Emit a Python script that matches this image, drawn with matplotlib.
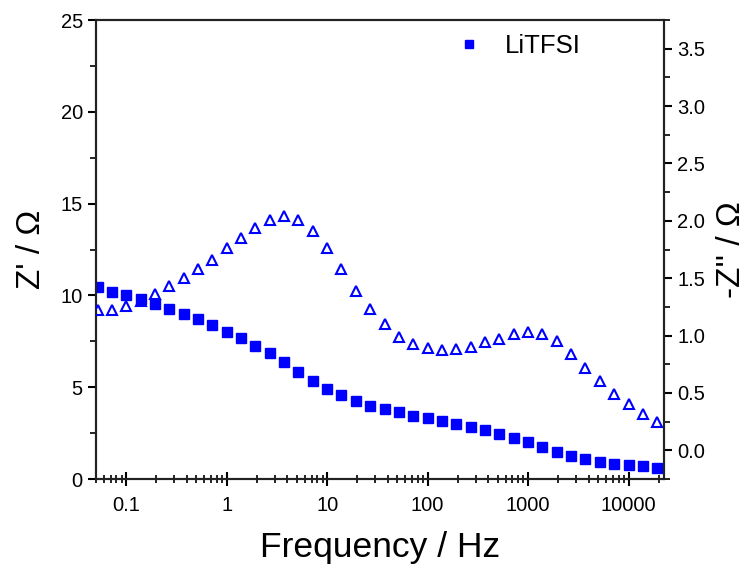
import matplotlib
matplotlib.use("Agg")
import matplotlib.pyplot as plt
from matplotlib.ticker import MultipleLocator, LogLocator, FixedLocator, FixedFormatter, NullFormatter, FormatStrFormatter

plt.rcParams['font.family'] = ['Liberation Sans', 'DejaVu Sans']

# Frequencies (Hz), 7 points per decade
freq = [0.0518, 0.0720, 0.100, 0.139, 0.193, 0.268, 0.373, 0.518, 0.720,
        1.00, 1.39, 1.93, 2.68, 3.73, 5.18, 7.20,
        10.0, 13.9, 19.3, 26.8, 37.3, 51.8, 72.0,
        100, 139, 193, 268, 373, 518, 720,
        1000, 1389, 1931, 2683, 3728, 5179, 7197,
        10000, 13895, 19307]

# Z' (left axis, ohm)
z_real = [10.44, 10.20, 10.02, 9.79, 9.53, 9.26, 8.99, 8.70, 8.40,
          8.02, 7.66, 7.26, 6.85, 6.36, 5.85, 5.36,
          4.92, 4.56, 4.25, 3.99, 3.81, 3.63, 3.45,
          3.34, 3.16, 3.01, 2.85, 2.67, 2.47, 2.25,
          2.00, 1.73, 1.49, 1.25, 1.07, 0.93, 0.83,
          0.78, 0.71, 0.62]

# -Z'' (right axis, ohm)
z_imag = [1.22, 1.22, 1.26, 1.30, 1.36, 1.43, 1.50, 1.58, 1.66,
          1.76, 1.85, 1.94, 2.01, 2.04, 2.01, 1.91,
          1.76, 1.58, 1.39, 1.23, 1.10, 0.99, 0.93,
          0.89, 0.87, 0.88, 0.90, 0.94, 0.97, 1.01,
          1.03, 1.01, 0.95, 0.84, 0.72, 0.60, 0.49,
          0.40, 0.32, 0.25]

x_ticks = [0.1, 1, 10, 100, 1000, 10000]
x_tick_labels = ['0.1', '1', '10', '100', '1000', '10000']

blue = '#0000FF'

fig = plt.figure(figsize=(7.51, 5.65), dpi=100)
ax = fig.add_axes([0.1278, 0.1522, 0.7562, 0.8124])
ax2 = ax.twinx()

ax.plot(freq, z_real, linestyle='none', marker='s', markersize=6.8,
        color=blue, markeredgecolor=blue, label='LiTFSI', zorder=3)
ax2.plot(freq, z_imag, linestyle='none', marker='^', markersize=7.8,
         markerfacecolor='none', markeredgecolor=blue, markeredgewidth=1.5, zorder=3)

ax.set_xscale('log')
ax.set_xlim(0.05, 22500)
ax.set_ylim(0, 25)
ax2.set_ylim(-0.25, 3.75)

ax.xaxis.set_major_locator(FixedLocator(x_ticks))
ax.xaxis.set_major_formatter(FixedFormatter(x_tick_labels))
ax.xaxis.set_minor_locator(LogLocator(base=10, subs=[2, 3, 4, 5, 6, 7, 8, 9], numticks=20))
ax.xaxis.set_minor_formatter(NullFormatter())

ax.yaxis.set_major_locator(MultipleLocator(5))
ax.yaxis.set_minor_locator(MultipleLocator(2.5))
ax2.yaxis.set_major_locator(MultipleLocator(0.5))
ax2.yaxis.set_minor_locator(MultipleLocator(0.25))
ax2.yaxis.set_major_formatter(FormatStrFormatter('%.1f'))

for a in (ax, ax2):
    for s in a.spines.values():
        s.set_linewidth(1.5)
        s.set_color('#222222')

ax.tick_params(axis='x', which='major', direction='inout', length=10, width=1.5, labelsize=14.5, pad=7, top=False)
ax.tick_params(axis='x', which='minor', direction='inout', length=6, width=1.2, top=False)
ax.tick_params(axis='y', which='major', direction='out', length=6, width=1.5, labelsize=14.5, right=False)
ax.tick_params(axis='y', which='minor', direction='out', length=4, width=1.2, right=False)
ax2.tick_params(axis='y', which='major', direction='out', length=6, width=1.5, labelsize=14.5)
ax2.tick_params(axis='y', which='minor', direction='out', length=4, width=1.2)

ax.set_xlabel('Frequency / Hz', fontsize=25.5, labelpad=12)
ax.set_ylabel("Z' / \u03a9", fontsize=24, labelpad=10)
ax2.set_ylabel("-Z'' / \u03a9", fontsize=24, labelpad=8)

ax.legend(loc='upper left', bbox_to_anchor=(0.57, 1.02), frameon=False,
          fontsize=18.5, handletextpad=0.4, markerscale=0.75)

fig.savefig('out.png', dpi=100)
